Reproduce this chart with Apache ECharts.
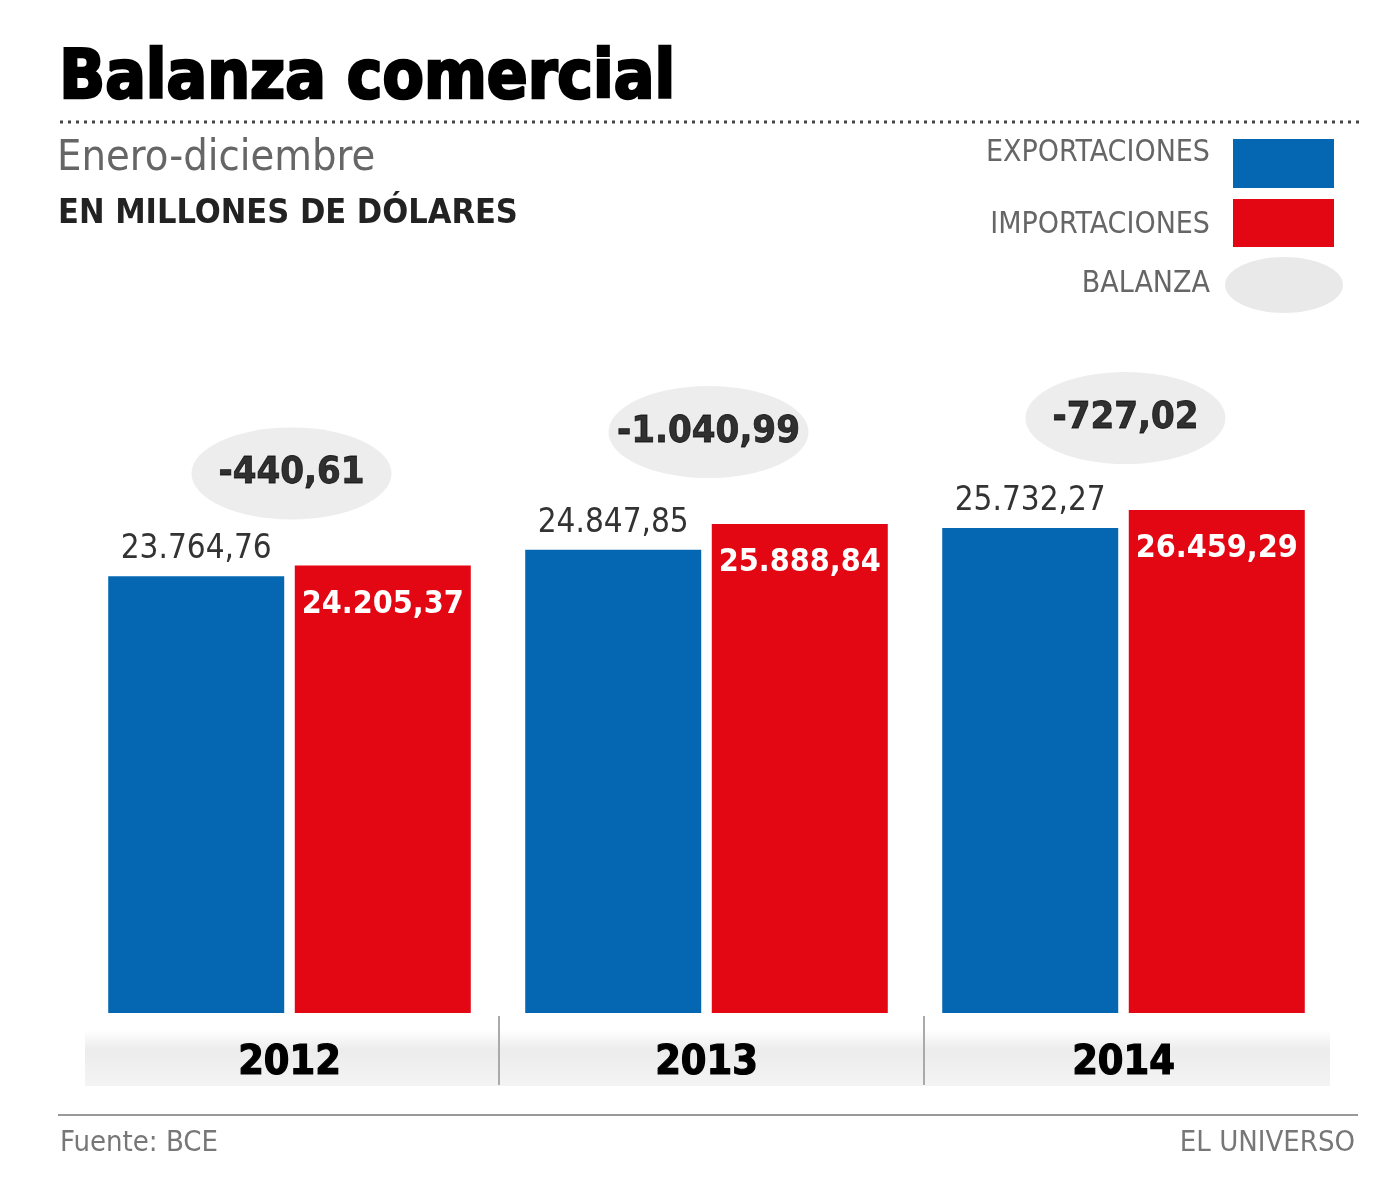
<!DOCTYPE html>
<html>
<head>
<meta charset="utf-8">
<script src="https://cdn.jsdelivr.net/npm/echarts@6/dist/echarts.min.js"></script>
<style>html,body{margin:0;padding:0;background:#fff}#c{width:1400px;height:1200px}</style>
</head>
<body>
<div id="c"></div>
<script>
var years = ['2012', '2013', '2014'];
var exportaciones = [23764.76, 24847.85, 25732.27];
var importaciones = [24205.37, 25888.84, 26459.29];
var balanza = [-440.61, -1040.99, -727.02];

var NARROW = '"Liberation Sans Narrow", "DejaVu Sans Condensed", "Roboto Condensed", "Arial Narrow", sans-serif';

function fmt(v) {
  var neg = v < 0;
  var s = Math.abs(v).toFixed(2).split('.');
  var int = s[0].replace(/\B(?=(\d{3})+(?!\d))/g, '.');
  return (neg ? '-' : '') + int + ',' + s[1];
}

var chart = echarts.init(document.getElementById('c'));
chart.setOption({
  backgroundColor: '#ffffff',
  animation: false,
  grid: { left: 81, width: 1251, top: 423, bottom: 187 },
  xAxis: {
    type: 'category',
    data: years,
    axisLine: { show: false },
    axisTick: { show: false },
    axisLabel: {
      margin: 30,
      fontFamily: NARROW,
      fontWeight: 'bold',
      fontSize: 41,
      color: '#000',
      textBorderColor: '#000',
      textBorderWidth: 1.2
    },
    z: 10
  },
  yAxis: {
    type: 'value',
    min: 6000,
    max: 30000,
    show: false,
    splitLine: { show: false }
  },
  series: [
    {
      name: 'EXPORTACIONES',
      type: 'bar',
      data: exportaciones,
      barWidth: 176,
      barGap: '6%',
      itemStyle: { color: '#0567b2' },
      label: {
        show: true,
        position: 'top',
        distance: 10,
        formatter: function (p) { return fmt(p.value); },
        fontFamily: NARROW,
        fontSize: 33,
        color: '#333'
      }
    },
    {
      name: 'IMPORTACIONES',
      type: 'bar',
      data: importaciones,
      barWidth: 176,
      itemStyle: { color: '#e30613' },
      label: {
        show: true,
        position: 'insideTop',
        distance: 23,
        formatter: function (p) { return fmt(p.value); },
        fontFamily: NARROW,
        fontWeight: 'bold',
        fontSize: 32,
        color: '#ffffff'
      }
    },
    {
      name: 'BALANZA',
      type: 'scatter',
      data: importaciones.map(function (v, i) { return { value: v, bal: balanza[i] }; }),
      symbol: 'circle',
      symbolSize: [200, 92],
      symbolOffset: [2, -92],
      itemStyle: { color: '#e9e9e9' },
      label: {
        show: true,
        position: 'inside',
        formatter: function (p) { return fmt(balanza[p.dataIndex]); },
        fontFamily: NARROW,
        fontWeight: 'bold',
        fontSize: 38,
        color: '#000',
        textBorderColor: '#000',
        textBorderWidth: 0.8
      },
      z: 3
    }
  ],
  graphic: [
    { type: 'text', left: 58, top: 46, style: { text: 'Balanza comercial', fontFamily: '"DejaVu Sans Condensed", "DejaVu Sans", sans-serif', fontWeight: 900, fontSize: 67, fill: '#000', stroke: '#000', lineWidth: 2.5 } },
    { type: 'line', shape: { x1: 60, y1: 122, x2: 1362, y2: 122 }, style: { stroke: '#444', lineWidth: 3, lineDash: [3, 5] } },
    { type: 'text', left: 57, top: 137, style: { text: 'Enero-diciembre', fontFamily: NARROW, fontSize: 43, fill: '#666' } },
    { type: 'text', left: 58, top: 197, style: { text: 'EN MILLONES DE DÓLARES', fontFamily: NARROW, fontWeight: 'bold', fontSize: 34, fill: '#222' } },
    // legend
    { type: 'text', x: 1210, y: 153, style: { text: 'EXPORTACIONES', align: 'right', verticalAlign: 'middle', fontFamily: NARROW, fontSize: 30, fill: '#666' } },
    { type: 'rect', shape: { x: 1233, y: 139, width: 101, height: 49 }, style: { fill: '#0567b2' } },
    { type: 'text', x: 1210, y: 225, style: { text: 'IMPORTACIONES', align: 'right', verticalAlign: 'middle', fontFamily: NARROW, fontSize: 30, fill: '#666' } },
    { type: 'rect', shape: { x: 1233, y: 199, width: 101, height: 48 }, style: { fill: '#e30613' } },
    { type: 'text', x: 1210, y: 284, style: { text: 'BALANZA', align: 'right', verticalAlign: 'middle', fontFamily: NARROW, fontSize: 30, fill: '#666' } },
    { type: 'ellipse', shape: { cx: 1284, cy: 285, rx: 59, ry: 28 }, style: { fill: '#e9e9e9' } },
    // year band
    { type: 'rect', z: -1, shape: { x: 85, y: 1030, width: 1245, height: 56 }, style: { fill: { type: 'linear', x: 0, y: 0, x2: 0, y2: 1, colorStops: [ { offset: 0, color: '#ffffff' }, { offset: 0.35, color: '#ececec' }, { offset: 1, color: '#f4f4f4' } ] } } },
    { type: 'line', shape: { x1: 499, y1: 1016, x2: 499, y2: 1085 }, style: { stroke: '#aaa', lineWidth: 2 } },
    { type: 'line', shape: { x1: 924, y1: 1016, x2: 924, y2: 1085 }, style: { stroke: '#aaa', lineWidth: 2 } },
    // footer
    { type: 'line', shape: { x1: 58, y1: 1115, x2: 1358, y2: 1115 }, style: { stroke: '#999', lineWidth: 2 } },
    { type: 'text', x: 60, y: 1143, style: { text: 'Fuente: BCE', verticalAlign: 'middle', fontFamily: NARROW, fontSize: 29, fill: '#777' } },
    { type: 'text', x: 1355, y: 1143, style: { text: 'EL UNIVERSO', align: 'right', verticalAlign: 'middle', fontFamily: NARROW, fontSize: 29, fill: '#777' } }
  ]
});
</script>
</body>
</html>
